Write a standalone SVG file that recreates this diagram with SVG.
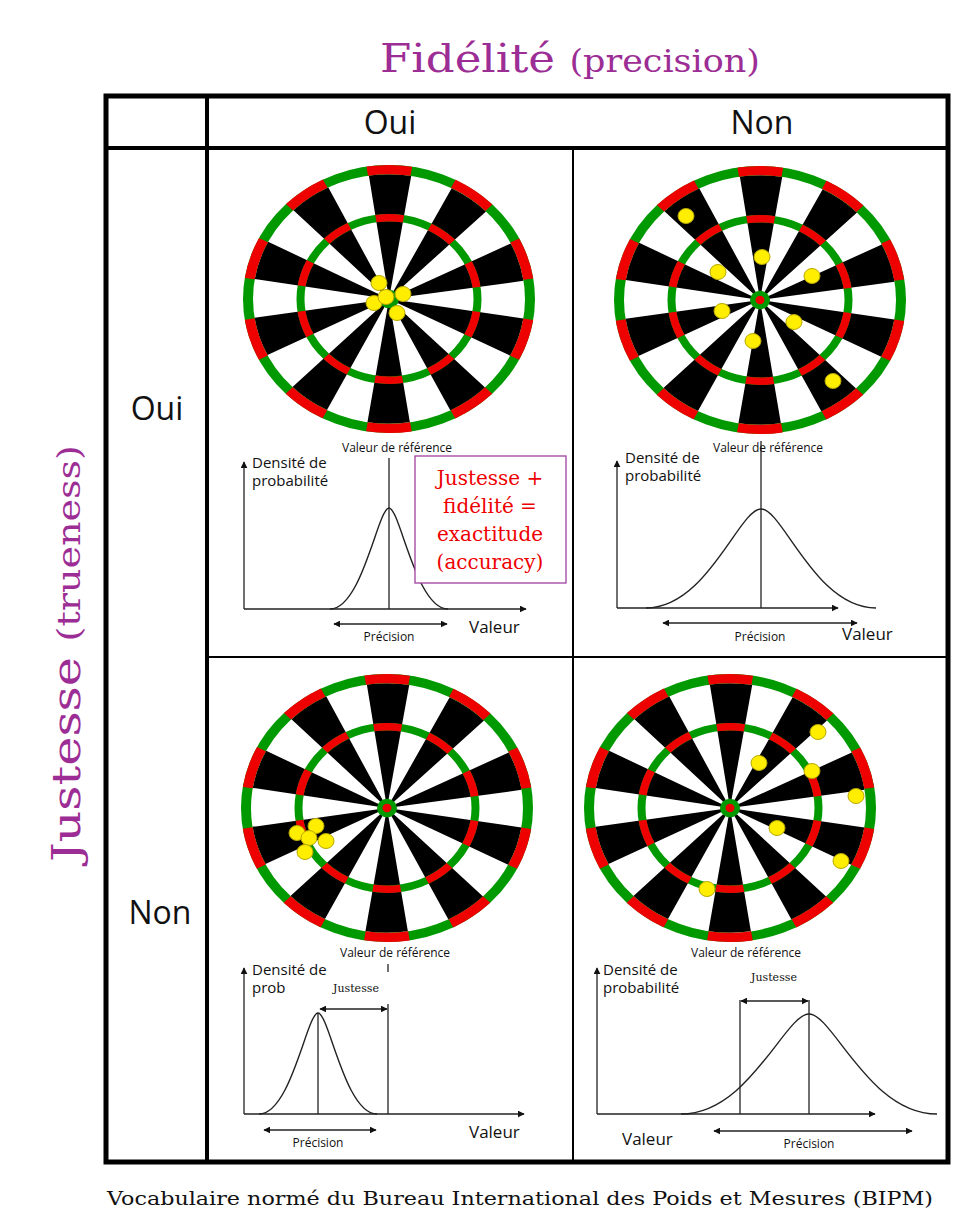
<svg xmlns="http://www.w3.org/2000/svg" width="956" height="1228" viewBox="0 0 956 1228">
<style>
.s{font-family:"Open Sans","DejaVu Sans",sans-serif;fill:#111}
.r{font-family:"DejaVu Serif","Liberation Serif",serif}
.ln{stroke:#222;stroke-width:1.3;fill:none}
.cv{stroke:#222;stroke-width:1.4;fill:none}
.dot{fill:#ffee00;stroke:#b8a800;stroke-width:1}
</style>
<defs>
<marker id="ar" viewBox="0 0 10 10" refX="9" refY="5" markerWidth="7" markerHeight="7" orient="auto-start-reverse" markerUnits="userSpaceOnUse"><path d="M0,0L10,5L0,10z" fill="#111"/></marker>
<g id="board">
<circle r="146" fill="#fff"/>
<circle r="68" fill="none" stroke="#000" stroke-width="136" stroke-dasharray="21.363 21.363" stroke-dashoffset="-10.68"/>
<circle r="141" fill="none" stroke="#009900" stroke-width="10"/>
<circle r="141" fill="none" stroke="#ee0000" stroke-width="10" stroke-dasharray="44.296 44.296" stroke-dashoffset="-22.15"/>
<circle r="88.5" fill="none" stroke="#009900" stroke-width="8"/>
<circle r="88.5" fill="none" stroke="#ee0000" stroke-width="8" stroke-dasharray="27.803 27.803" stroke-dashoffset="-13.9"/>
<circle r="10" fill="#009900"/>
<circle r="4.5" fill="#ee0000"/>
</g>
</defs>

<text class="r" x="380" y="72" font-size="40" fill="#9c2d95" textLength="380" lengthAdjust="spacingAndGlyphs">Fidélité <tspan font-size="31">(precision)</tspan></text>
<text class="r" transform="translate(80,862) rotate(-90)" font-size="40" fill="#9c2d95" textLength="417" lengthAdjust="spacingAndGlyphs">Justesse <tspan font-size="31">(trueness)</tspan></text>
<text class="r" x="107" y="1205" font-size="18.5" fill="#111" textLength="826" lengthAdjust="spacingAndGlyphs">Vocabulaire normé du Bureau International des Poids et Mesures (BIPM)</text>

<g id="table">
<rect x="106" y="96" width="842" height="1066" fill="#fff" stroke="#000" stroke-width="5"/>
<line x1="106" y1="148" x2="948" y2="148" stroke="#000" stroke-width="4"/>
<line x1="207" y1="96" x2="207" y2="1162" stroke="#000" stroke-width="4"/>
<line x1="573" y1="148" x2="573" y2="1162" stroke="#000" stroke-width="2"/>
<line x1="207" y1="657" x2="948" y2="657" stroke="#000" stroke-width="2"/>
<text class="s" x="390" y="134" font-size="32" text-anchor="middle">Oui</text>
<text class="s" x="762" y="134" font-size="32" text-anchor="middle">Non</text>
<text class="s" x="157" y="420" font-size="32" text-anchor="middle">Oui</text>
<text class="s" x="160" y="924" font-size="32" text-anchor="middle">Non</text>
</g>

<g id="board-tl">
<use href="#board" transform="translate(389,299) scale(1,0.918)"/>
<ellipse class="dot" cx="379" cy="283" rx="8" ry="7.5"/>
<ellipse class="dot" cx="403" cy="294" rx="8" ry="7.5"/>
<ellipse class="dot" cx="374" cy="303" rx="8" ry="7.5"/>
<ellipse class="dot" cx="386" cy="297" rx="8" ry="7.5"/>
<ellipse class="dot" cx="397" cy="313" rx="8" ry="7.5"/>
</g>
<g id="board-tr">
<use href="#board" transform="translate(760,300) scale(1,0.918)"/>
<ellipse class="dot" cx="686" cy="216" rx="8" ry="7.5"/>
<ellipse class="dot" cx="718" cy="272" rx="8" ry="7.5"/>
<ellipse class="dot" cx="762" cy="257" rx="8" ry="7.5"/>
<ellipse class="dot" cx="812" cy="276" rx="8" ry="7.5"/>
<ellipse class="dot" cx="722" cy="311" rx="8" ry="7.5"/>
<ellipse class="dot" cx="794" cy="322" rx="8" ry="7.5"/>
<ellipse class="dot" cx="753" cy="341" rx="8" ry="7.5"/>
<ellipse class="dot" cx="833" cy="381" rx="8" ry="7.5"/>
</g>
<g id="board-bl">
<use href="#board" transform="translate(387,808) scale(1,0.918)"/>
<ellipse class="dot" cx="297" cy="833" rx="8" ry="7.5"/>
<ellipse class="dot" cx="316" cy="826" rx="8" ry="7.5"/>
<ellipse class="dot" cx="326" cy="841" rx="8" ry="7.5"/>
<ellipse class="dot" cx="309" cy="838" rx="8" ry="7.5"/>
<ellipse class="dot" cx="305" cy="852" rx="8" ry="7.5"/>
</g>
<g id="board-br">
<use href="#board" transform="translate(730,808) scale(1,0.918)"/>
<ellipse class="dot" cx="818" cy="732" rx="8" ry="7.5"/>
<ellipse class="dot" cx="759" cy="763" rx="8" ry="7.5"/>
<ellipse class="dot" cx="812" cy="771" rx="8" ry="7.5"/>
<ellipse class="dot" cx="856" cy="796" rx="8" ry="7.5"/>
<ellipse class="dot" cx="777" cy="828" rx="8" ry="7.5"/>
<ellipse class="dot" cx="841" cy="861" rx="8" ry="7.5"/>
<ellipse class="dot" cx="707" cy="889" rx="8" ry="7.5"/>
</g>

<g id="graph-tl">
<line class="ln" x1="244" y1="609" x2="244" y2="462" marker-end="url(#ar)"/>
<line class="ln" x1="244" y1="609" x2="526" y2="609" marker-end="url(#ar)"/>
<line class="ln" x1="389" y1="458" x2="389" y2="609"/>
<path class="cv" d="M330,609 C362,609 378,508 389,508 S416,609 448,609"/>
<line class="ln" x1="334" y1="624" x2="447" y2="624" marker-start="url(#ar)" marker-end="url(#ar)"/>
<text class="s" x="252" y="468" font-size="15">Densité de</text>
<text class="s" x="252" y="486" font-size="15">probabilité</text>
<text class="s" x="342" y="452" font-size="12">Valeur de référence</text>
<text class="s" x="389" y="641" font-size="12" text-anchor="middle">Précision</text>
<text class="s" x="469" y="633" font-size="17">Valeur</text>
<rect x="415" y="456" width="151" height="127" fill="#fff" stroke="#a040a0" stroke-width="1.3"/>
<g class="r" font-size="20" fill="#ee0000" text-anchor="middle">
<text x="490" y="485">Justesse +</text>
<text x="490" y="513">fidélité =</text>
<text x="490" y="541">exactitude</text>
<text x="490" y="569">(accuracy)</text>
</g>
</g>

<g id="graph-tr">
<line class="ln" x1="617" y1="608" x2="617" y2="461" marker-end="url(#ar)"/>
<line class="ln" x1="617" y1="608" x2="838" y2="608" marker-end="url(#ar)"/>
<line class="ln" x1="761" y1="441" x2="761" y2="608"/>
<path class="cv" d="M646,608 C707,608 739,509 761,509 S815,608 876,608"/>
<line class="ln" x1="663" y1="623" x2="857" y2="623" marker-start="url(#ar)" marker-end="url(#ar)"/>
<text class="s" x="625" y="463" font-size="15">Densité de</text>
<text class="s" x="625" y="481" font-size="15">probabilité</text>
<text class="s" x="713" y="452" font-size="12">Valeur de référence</text>
<text class="s" x="760" y="641" font-size="12" text-anchor="middle">Précision</text>
<text class="s" x="842" y="640" font-size="17">Valeur</text>
</g>

<g id="graph-bl">
<line class="ln" x1="244" y1="1114" x2="244" y2="968" marker-end="url(#ar)"/>
<line class="ln" x1="244" y1="1114" x2="524" y2="1114" marker-end="url(#ar)"/>
<line class="ln" x1="388" y1="1004" x2="388" y2="1114"/>
<line class="ln" x1="388" y1="964" x2="388" y2="972"/>
<line class="ln" x1="318" y1="1013" x2="318" y2="1114"/>
<path class="cv" d="M259,1114 C291,1114 307,1013 318,1013 S345,1114 377,1114"/>
<line class="ln" x1="320" y1="1009" x2="387" y2="1009" marker-start="url(#ar)" marker-end="url(#ar)"/>
<line class="ln" x1="264" y1="1130" x2="376" y2="1130" marker-start="url(#ar)" marker-end="url(#ar)"/>
<text class="r" x="356" y="992" font-size="11" text-anchor="middle" fill="#111">Justesse</text>
<text class="s" x="252" y="975" font-size="15">Densité de</text>
<text class="s" x="252" y="993" font-size="15">prob</text>
<text class="s" x="340" y="957" font-size="12">Valeur de référence</text>
<text class="s" x="318" y="1147" font-size="12" text-anchor="middle">Précision</text>
<text class="s" x="469" y="1138" font-size="17">Valeur</text>
</g>

<g id="graph-br">
<line class="ln" x1="597" y1="1114" x2="597" y2="968" marker-end="url(#ar)"/>
<line class="ln" x1="597" y1="1114" x2="875" y2="1114" marker-end="url(#ar)"/>
<line class="ln" x1="740" y1="1000" x2="740" y2="1114"/>
<line class="ln" x1="809" y1="1000" x2="809" y2="1114"/>
<path class="cv" d="M681,1114 C749,1114 785,1014 809,1014 S869,1114 937,1114"/>
<line class="ln" x1="741" y1="1001" x2="808" y2="1001" marker-start="url(#ar)" marker-end="url(#ar)"/>
<line class="ln" x1="714" y1="1131" x2="912" y2="1131" marker-start="url(#ar)" marker-end="url(#ar)"/>
<text class="r" x="774" y="981" font-size="11" text-anchor="middle" fill="#111">Justesse</text>
<text class="s" x="603" y="975" font-size="15">Densité de</text>
<text class="s" x="603" y="993" font-size="15">probabilité</text>
<text class="s" x="691" y="957" font-size="12">Valeur de référence</text>
<text class="s" x="809" y="1148" font-size="12" text-anchor="middle">Précision</text>
<text class="s" x="622" y="1145" font-size="17">Valeur</text>
</g>
</svg>
